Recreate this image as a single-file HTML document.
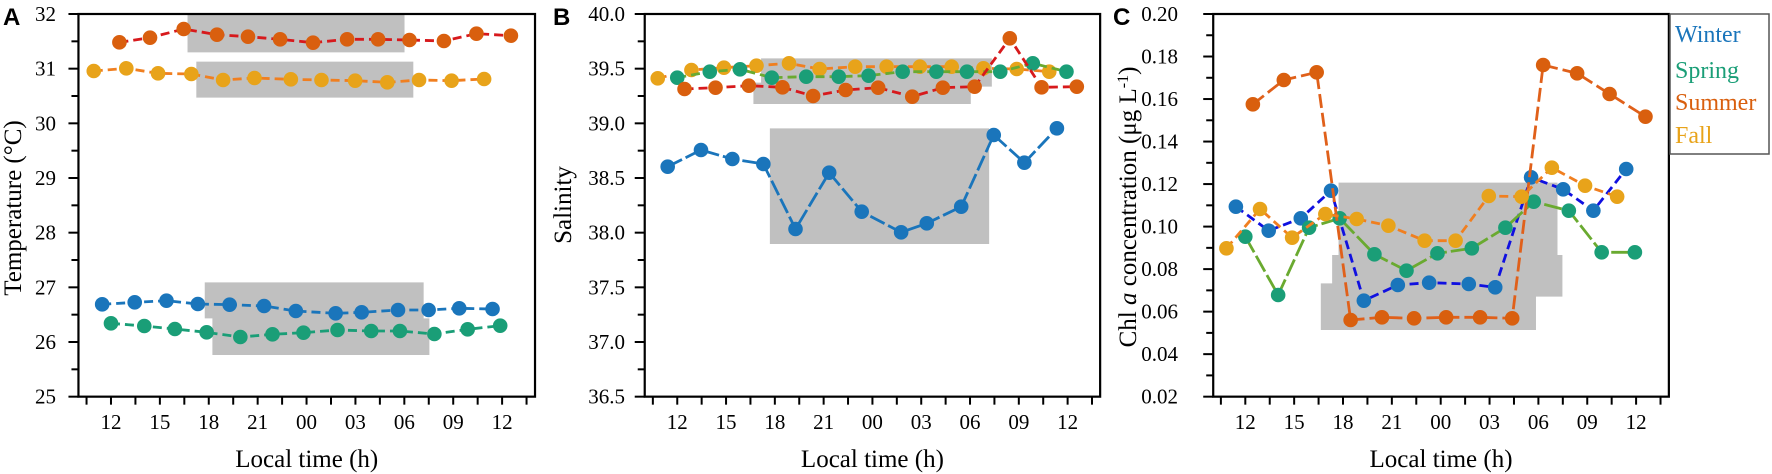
<!DOCTYPE html>
<html><head><meta charset="utf-8"><style>
html,body{margin:0;padding:0;background:#fff;}
svg{display:block;}
text{font-family:"Liberation Serif",serif;}
</style></head><body>
<svg id="s" width="1772" height="474" viewBox="0 0 1772 474" xmlns="http://www.w3.org/2000/svg"></svg>
<script>
const S=document.getElementById('s');const NS='http://www.w3.org/2000/svg';
function el(t,a,txt){const e=document.createElementNS(NS,t);for(const k in a)e.setAttribute(k,a[k]);if(txt!==undefined)e.textContent=txt;S.appendChild(e);return e;}
const BL='#1a75bb',GR='#1a9e77',SU='#d95f0e',FA='#e8a31a',GY='#c0c0c0';
function panel(o){
 const X=z=>o.ox+z/o.fx, Y=z=>z/3;
 o.gray.forEach(p=>el('polygon',{points:p.map((v,i)=>i%2?Y(v):X(v)).reduce((a,v,i)=>a+(i%2?','+v+' ':v),''),fill:GY}));
 o.series.forEach(s=>{
  const pts=s.d.map(p=>X(p[0])+','+Y(p[1])).join(' ');
  el('polyline',{points:pts,fill:'none',stroke:s.lc,'stroke-width':2.8,'stroke-dasharray':s.dash||'9,5'});
  s.d.forEach(p=>el('ellipse',{cx:X(p[0]),cy:Y(p[1]),rx:7.3,ry:7.3,fill:s.c}));
 });
 const L=X(o.ax[0]),R=X(o.ax[1]),T=Y(42),B=Y(1190);
 el('rect',{x:L,y:T,width:R-L,height:B-T,fill:'none',stroke:'#000','stroke-width':2.2});
 const n=o.yl.length;
 for(let i=0;i<n;i++){const y=T+(B-T)*i/(n-1);
  el('line',{x1:L-10,x2:L,y1:y,y2:y,stroke:'#000','stroke-width':2});
  el('text',{x:o.ylx,y:y+7,'text-anchor':'end','font-size':21},o.yl[i]);
  if(i<n-1){const ym=y+(B-T)/(n-1)/2;el('line',{x1:L-7,x2:L,y1:ym,y2:ym,stroke:'#000','stroke-width':2});}
 }
 const xl=['12','15','18','21','00','03','06','09','12'];
 for(let i=-1;i<=17;i++){const x=X(o.x0+o.xs*i/2);if(x<L+2||x>R-2)continue;
  el('line',{x1:x,x2:x,y1:B,y2:B+8,stroke:'#000','stroke-width':2});}
 xl.forEach((t,i)=>el('text',{x:X(o.x0+o.xs*i),y:429,'text-anchor':'middle','font-size':21},t));
 el('text',{x:(L+R)/2,y:467,'text-anchor':'middle','font-size':25},'Local time (h)');
 el('text',{x:o.lx,y:25,'font-size':24,'font-weight':'bold',style:'font-family:"Liberation Sans",sans-serif'},o.letter);
}
panel({ox:0,fx:2.613,ax:[205,1398],x0:290,xs:127.75,ylx:56,lx:3,letter:'A',
 yl:['32','31','30','29','28','27','26','25'],
 gray:[[490,42,1057,42,1057,157,490,157],[513,185,1080,185,1080,293,513,293],[535,847,1107,847,1107,955,1122,955,1122,1065,555,1065,555,955,535,955]],
 series:[
 {c:SU,lc:'#d7191c',d:[[312,127],[392,113],[480,87],[567,104],[648,110],[732,118],[818,128],[907,118],[988,118],[1070,120],[1160,123],[1245,101],[1335,107]]},
 {c:FA,lc:'#f07f20',d:[[245,213],[330,205],[413,220],[500,222],[583,240],[665,234],[760,238],[840,240],[928,242],[1012,247],[1095,240],[1180,242],[1265,237]]},
 {c:BL,lc:BL,d:[[267,913],[352,907],[435,902],[517,912],[600,914],[690,918],[773,933],[877,940],[945,937],[1040,930],[1120,930],[1200,925],[1287,927]]},
 {c:GR,lc:GR,d:[[290,970],[377,978],[457,987],[540,997],[628,1011],[712,1003],[793,998],[882,990],[970,993],[1045,993],[1135,1002],[1222,988],[1307,977]]}
]});
panel({ox:590,fx:2.613,ax:[143,1333],x0:228,xs:127.5,ylx:625,lx:553,letter:'B',
 yl:['40.0','39.5','39.0','38.5','38.0','37.5','37.0','36.5'],
 gray:[[447,175,1050,175,1050,260,995,260,995,312,427,312,427,248,447,248],[470,385,1043,385,1043,732,470,732]],
 series:[
 {c:FA,lc:'#f07f20',d:[[177,235],[265,210],[350,203],[435,197],[520,190],[600,207],[693,200],[775,200],[862,200],[945,200],[1028,205],[1115,207],[1200,215]]},
 {c:GR,lc:'#6aaa30',d:[[228,233],[313,215],[392,208],[475,233],[565,230],[650,230],[728,227],[817,215],[905,215],[985,215],[1072,215],[1157,190],[1245,215]]},
 {c:SU,lc:'#d7191c',d:[[247,267],[328,263],[415,257],[503,262],[583,288],[668,270],[753,263],[842,290],[922,263],[1005,260],[1097,115],[1180,262],[1272,260]]},
 {c:BL,lc:BL,dash:'16,4',d:[[203,500],[290,450],[372,477],[453,492],[537,687],[625,518],[710,635],[813,697],[880,670],[970,620],[1055,405],[1135,488],[1220,385]]}
]});
panel({ox:1180,fx:2.649,ax:[88,1295],x0:173,xs:129.4,ylx:1178,lx:1113,letter:'C',
 yl:['0.20','0.18','0.16','0.14','0.12','0.10','0.08','0.06','0.04','0.02'],
 gray:[[420,548,1000,548,1000,765,1013,765,1013,890,943,890,943,990,373,990,373,850,403,850,403,765,420,765]],
 series:[
 {c:BL,lc:'#1010e0',d:[[148,620],[235,692],[320,655],[400,572],[487,902],[577,855],[660,848],[765,852],[835,862],[930,532],[1015,568],[1095,632],[1182,507]]},
 {c:GR,lc:'#6aaa30',dash:'18,4',d:[[173,710],[260,885],[342,683],[423,655],[515,763],[600,812],[682,760],[773,745],[862,683],[937,605],[1030,632],[1117,757],[1205,757]]},
 {c:SU,lc:'#e0601a',dash:'14,5',d:[[193,313],[275,240],[362,217],[452,960],[535,952],[620,955],[705,952],[795,952],[880,955],[962,195],[1052,220],[1138,282],[1233,350]]},
 {c:FA,lc:'#f07f20',d:[[123,745],[212,627],[297,713],[385,642],[468,657],[552,677],[648,722],[730,722],[818,588],[905,590],[985,503],[1073,557],[1158,590]]}
]});
el('text',{x:0,y:0,'font-size':25,'text-anchor':'middle',transform:'translate(21,208) rotate(-90)'},'Temperature (°C)');
el('text',{x:0,y:0,'font-size':25,'text-anchor':'middle',transform:'translate(571,205) rotate(-90)'},'Salinity');
const t=el('text',{x:0,y:0,'font-size':25,'text-anchor':'middle',transform:'translate(1136,207) rotate(-90)'});
t.innerHTML='Chl <tspan font-style="italic">a</tspan> concentration (μg L<tspan dy="-8" font-size="16">-1</tspan><tspan dy="8">)</tspan>';
el('rect',{x:1670,y:14,width:99,height:140,fill:'#fff',stroke:'#555','stroke-width':1.5});
[['Winter',42,BL],['Spring',78,GR],['Summer',110,SU],['Fall',143,FA]].forEach(a=>el('text',{x:1675,y:a[1],'font-size':24,fill:a[2]},a[0]));
</script>
</body></html>
